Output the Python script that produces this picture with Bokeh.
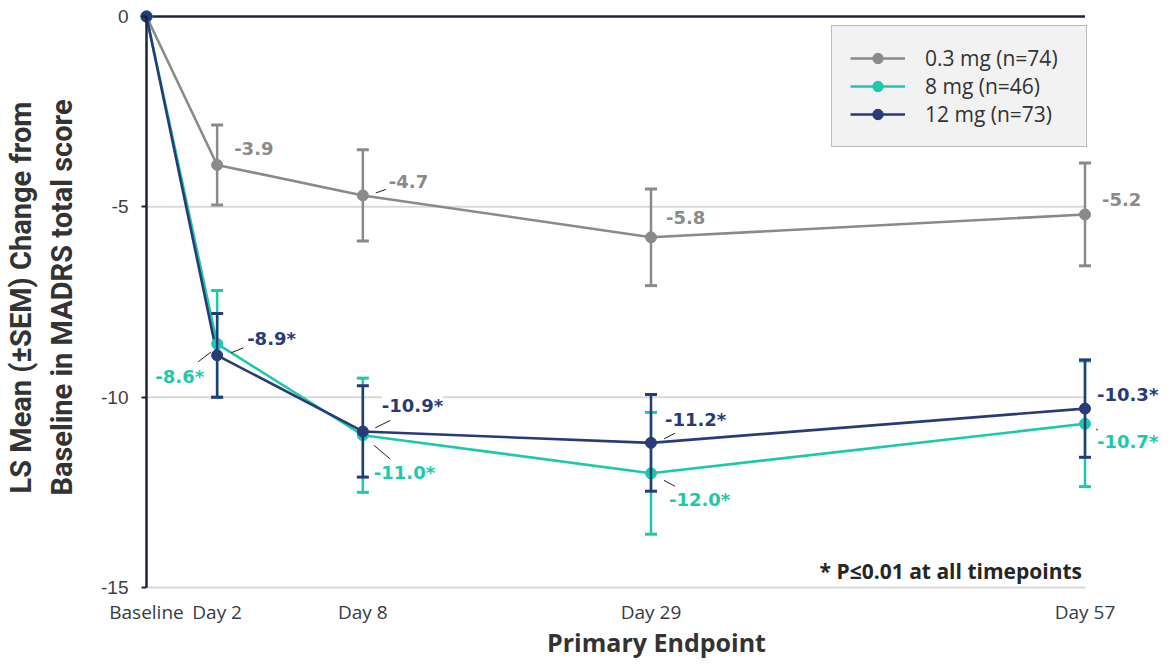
import math
from bokeh.plotting import figure
from bokeh.models import Range1d, FixedTicker, Legend, LegendItem, Label
from bokeh.core.properties import value
from bokeh.embed import file_html
from bokeh.resources import INLINE

# ---------------- data ----------------
timepoints = ["Baseline", "Day 2", "Day 8", "Day 29", "Day 57"]
series_names = ["0.3 mg (n=74)", "8 mg (n=46)", "12 mg (n=73)"]
mean_03 = [0, -3.9, -4.7, -5.8, -5.2]
sem_03 = [0, 1.05, 1.2, 1.27, 1.35]
mean_8 = [0, -8.6, -11.0, -12.0, -10.7]
sem_8 = [0, 1.4, 1.5, 1.6, 1.65]
mean_12 = [0, -8.9, -10.9, -11.2, -10.3]
sem_12 = [0, 1.1, 1.2, 1.27, 1.28]
significant = [False, True, True]
y_ticks = [0, -5, -10, -15]
footnote = "* P\u22640.01 at all timepoints"
y_title = "LS Mean (\u00b1SEM) Change from\nBaseline in MADRS total score"
x_title = "Primary Endpoint"

# ---------------- layout / style ----------------
# horizontal slot of each timepoint on the chart's non-linear time axis
x_slot = [0, 4.29, 13.14, 30.64, 57]
W, H = 1160, 661
PX_X = 938.5 / 57.0          # px per x unit
PX_Y = 571.0 / 15.0          # px per y unit
AXIS_X = 146.0               # canvas px of the y axis line
ZERO_Y = 16.0                # canvas px (from top) of y = 0
X_START = -AXIS_X / PX_X
X_END = X_START + W / PX_X
Y_END = ZERO_Y / PX_Y
Y_START = Y_END - H / PX_Y

colors = ["#8a8a8a", "#1dc8ab", "#283a78"]
axis_dark = "#1d2438"
# label offsets (px, screen: +x right, +y down) per series per timepoint
label_off = [
    [None, (17, -16), (26, -14), (15, -20), (17, -15)],
    [None, (-13, 33), (11, 37), (18, 26), (12, 18)],
    [None, (30, -17), (19, -26), (14, -23), (12, -14)],
]
label_align = [
    [None, "left", "left", "left", "left"],
    [None, "right", "left", "left", "left"],
    [None, "left", "left", "left", "left"],
]
# leader lines (px offsets from the point)
leader_start = [
    [None, None, (13, -2.5), None, None],
    [None, (-19, 18), (11, 10), (13, 7), (11, 5)],
    [None, (14, -2.5), (12.5, -3.7), (13, -4), None],
]
leader_end = [
    [None, None, (23, -6), None, None],
    [None, (-6, 8), (27, 23.5), (24, 13), (13, 6.5)],
    [None, (26.5, -7.5), (27.5, -11), (24, -9.7), None],
]

p = figure(width=W, height=H,
           x_range=Range1d(X_START, X_END), y_range=Range1d(Y_START, Y_END),
           output_backend="svg", toolbar_location=None,
           min_border_left=0, min_border_right=0,
           min_border_top=0, min_border_bottom=0,
           background_fill_color="white", border_fill_color="white")
p.outline_line_color = None
p.xgrid.visible = False
p.ygrid.visible = False

# y axis, anchored at the baseline slot
ya = p.yaxis[0]
ya.fixed_location = x_slot[0]
ya.ticker = FixedTicker(ticks=y_ticks)
ya.major_label_overrides = {t: str(t) for t in y_ticks}
ya.bounds = (min(y_ticks), max(y_ticks))
ya.axis_line_color = axis_dark
ya.axis_line_width = 2.5
ya.major_tick_line_color = axis_dark
ya.major_tick_line_width = 2
ya.major_tick_out = 5
ya.major_tick_in = 0
ya.minor_tick_out = 0
ya.minor_tick_in = 0
ya.major_label_text_font = "Liberation Sans"
ya.major_label_text_font_size = "19px"
ya.major_label_text_color = "#404040"
ya.major_label_standoff = 13

# x axis, anchored at y = -15
xa = p.xaxis[0]
xa.fixed_location = min(y_ticks)
xa.ticker = FixedTicker(ticks=x_slot)
xa.major_label_overrides = {x: t for x, t in zip(x_slot, timepoints)}
xa.bounds = (x_slot[0], x_slot[-1])
xa.axis_line_color = "#d9d9d9"
xa.axis_line_width = 2
xa.major_tick_out = 0
xa.major_tick_in = 0
xa.minor_tick_out = 0
xa.minor_tick_in = 0
xa.major_label_text_font = "Open Sans"
xa.major_label_text_font_size = "19px"
xa.major_label_text_color = "#363b47"
xa.major_label_standoff = 11

# gridlines (-5, -10) and zero line across the data extent
grid_y = [t for t in y_ticks if t not in (0, -15)]
p.segment(x0=[x_slot[0]] * len(grid_y), y0=grid_y, x1=[x_slot[-1]] * len(grid_y), y1=grid_y,
          line_color="#d9d9d9", line_width=2)
p.segment(x0=[x_slot[0]], y0=[0], x1=[x_slot[-1]], y1=[0], line_color=axis_dark, line_width=2.5)

means = [mean_03, mean_8, mean_12]
sems = [sem_03, sem_8, sem_12]
legend_items = []
line_renderers = []
for k in range(3):
    lr = p.line(x_slot, means[k], line_color=colors[k], line_width=2.6)
    line_renderers.append(lr)

for k in range(3):
    m, s, c = means[k], sems[k], colors[k]
    idx = [i for i in range(len(m)) if s[i] > 0]
    xs = [x_slot[i] for i in idx]
    lo = [m[i] - s[i] for i in idx]
    hi = [m[i] + s[i] for i in idx]
    p.segment(x0=xs, y0=lo, x1=xs, y1=hi, line_color=c, line_width=2.5)
    p.scatter(xs + xs, lo + hi, marker="dash", size=12, line_color=c, line_width=3)
    sr = p.scatter(x_slot, m, marker="circle", size=11, fill_color=c, line_color=c)
    legend_items.append(LegendItem(label=series_names[k], renderers=[line_renderers[k], sr]))

# data labels and leaders
for k in range(3):
    m, c = means[k], colors[k]
    for i in range(1, len(m)):
        txt = f"{m[i]:.1f}" + ("*" if significant[k] else "")
        dx, dy = label_off[k][i]
        p.text(x=[x_slot[i]], y=[m[i]], text=[txt], x_offset=dx, y_offset=dy,
               text_align=label_align[k][i], text_baseline="middle",
               text_font=value("DejaVu Sans"), text_font_style="bold",
               text_font_size="18px", text_color=c,
               background_fill_color="white")
        if leader_start[k][i] is not None:
            a = leader_start[k][i]
            b = leader_end[k][i]
            p.segment(x0=[x_slot[i] + a[0] / PX_X], y0=[m[i] - a[1] / PX_Y],
                      x1=[x_slot[i] + b[0] / PX_X], y1=[m[i] - b[1] / PX_Y],
                      line_color="#222222", line_width=1)

legend = Legend(items=legend_items, location=(831, 514),
                label_text_font="Open Sans", label_text_font_size="21px",
                label_text_color="#333333",
                label_height=26, glyph_height=26, glyph_width=55, spacing=0,
                padding=18, margin=0, label_standoff=20, label_width=143,
                background_fill_color="#f2f2f2", background_fill_alpha=1.0,
                border_line_color="#7a8580", border_line_width=1.5)
p.add_layout(legend, "center")

p.add_layout(Label(x=x_slot[-1], y=min(y_ticks), text=footnote, x_offset=-3, y_offset=17,
                   text_align="right", text_baseline="middle",
                   text_font="Open Sans", text_font_style="bold",
                   text_font_size="21px", text_color="#262626"))

# axis titles (screen units: x from the left edge, y from the bottom edge)
p.add_layout(Label(x=656, y=20, x_units="screen", y_units="screen", text=x_title,
                   text_align="center", text_baseline="middle",
                   text_font="Open Sans", text_font_style="bold",
                   text_font_size="25px", text_color="#333333"))
p.add_layout(Label(x=41, y=H - 297, x_units="screen", y_units="screen", text=y_title,
                   angle=math.pi / 2, text_align="center", text_baseline="middle",
                   text_line_height=1.2,
                   text_font="Roboto", text_font_style="bold",
                   text_font_size="29px", text_color="#333333"))

open("out.html", "w").write(file_html(p, INLINE))
